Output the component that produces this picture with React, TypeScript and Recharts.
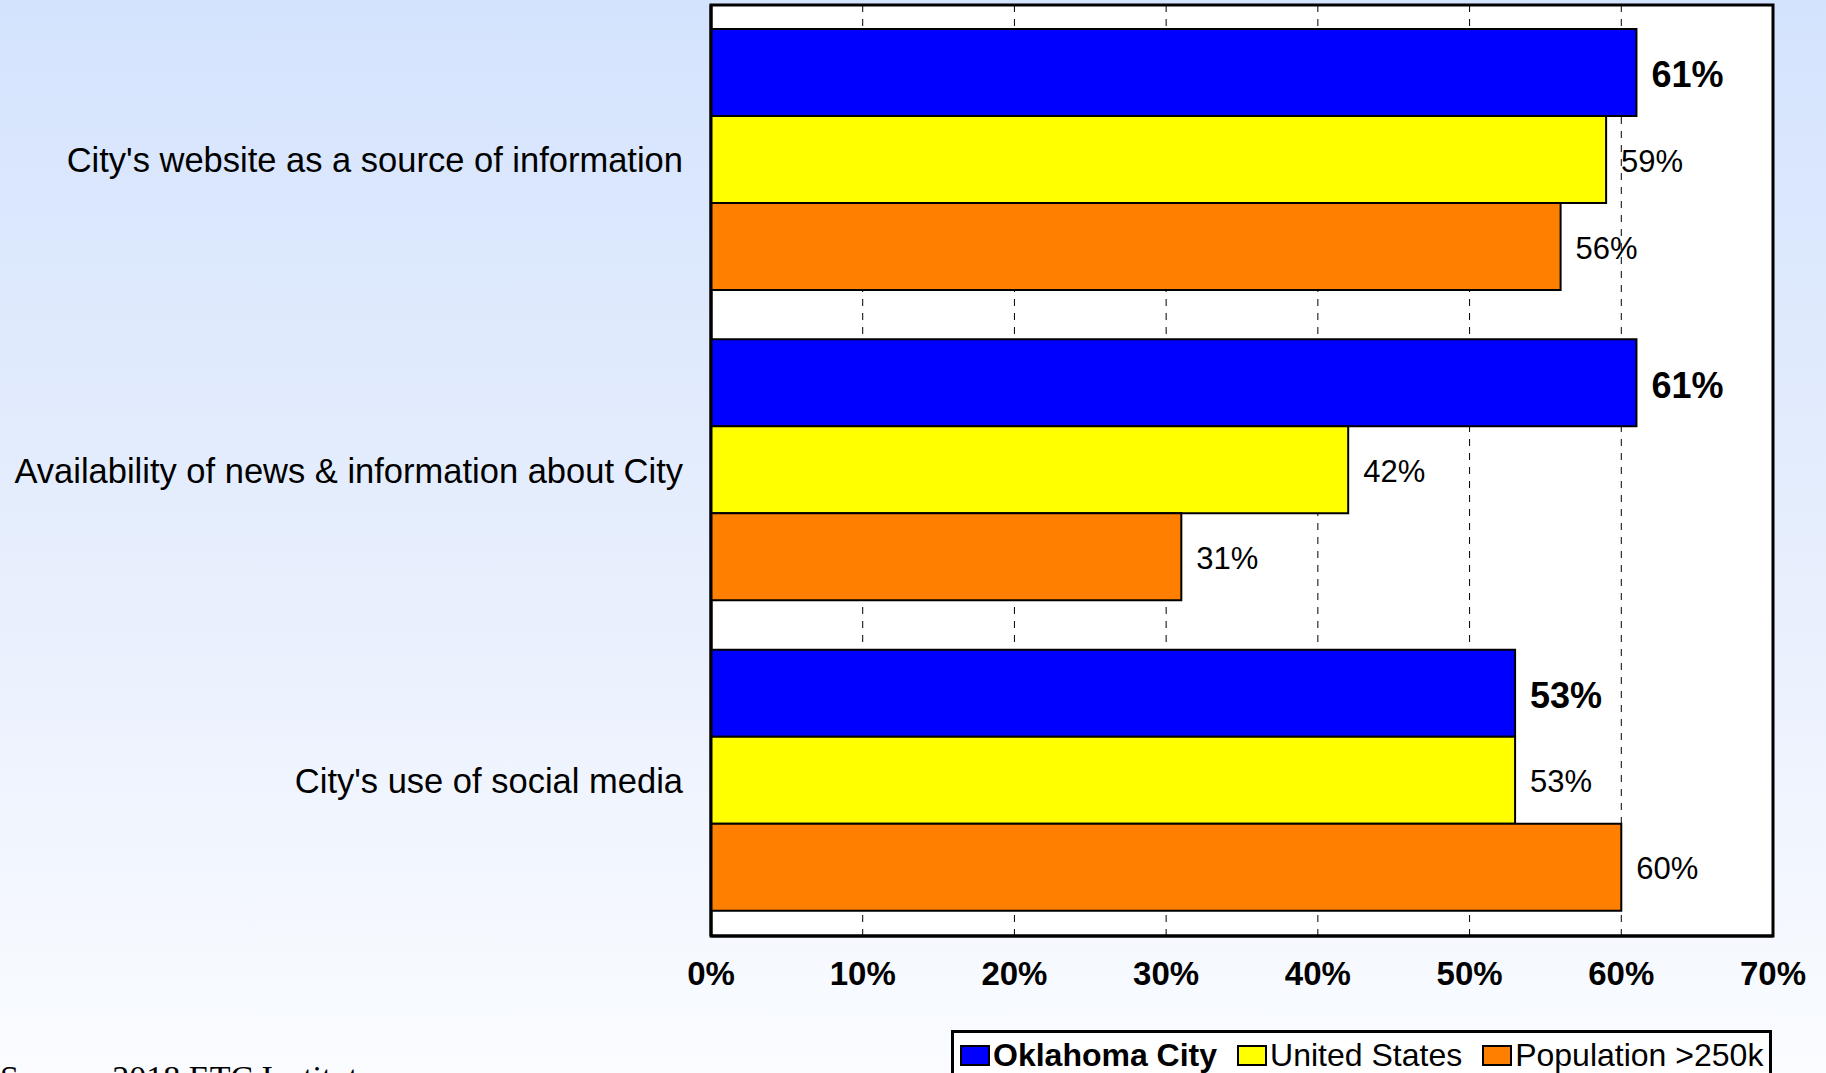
import React from 'react';
import { BarChart, Bar, XAxis, YAxis, CartesianGrid, LabelList, Legend, ReferenceArea } from 'recharts';

const categories = [
  "City's website as a source of information",
  'Availability of news & information about City',
  "City's use of social media",
];
const oklahomaCity = [61, 61, 53];
const unitedStates = [59, 42, 53];
const population250k = [56, 31, 60];
const seriesNames = ['Oklahoma City', 'United States', 'Population >250k'];
const seriesColors = ['#0000ff', '#ffff00', '#ff8000'];
const xTicks = [0, 10, 20, 30, 40, 50, 60, 70];

const data = categories.map((name, i) => ({
  name,
  okc: oklahomaCity[i],
  us: unitedStates[i],
  pop: population250k[i],
}));

const FONT = '"Liberation Sans", Arial, Helvetica, sans-serif';
const pct = (v: any) => `${v}%`;

const renderLegend = () => {
  return (
    <div
      style={{
        border: '3px solid #000',
        background: '#fff',
        display: 'flex',
        alignItems: 'center',
        padding: '2px 6px 10px 6px',
        fontFamily: FONT,
        fontSize: 32,
        lineHeight: '40px',
        color: '#000',
        whiteSpace: 'nowrap',
      }}
    >
      {seriesNames.map((name, i) => (
        <div key={name} style={{ display: 'flex', alignItems: 'center', marginRight: i < seriesNames.length - 1 ? 20 : 0 }}>
          <span
            style={{
              display: 'inline-block',
              width: 26,
              height: 17,
              background: seriesColors[i],
              border: '2px solid #000',
              marginRight: 3,
            }}
          />
          <span style={{ fontWeight: i === 0 ? 700 : 400 }}>{name}</span>
        </div>
      ))}
    </div>
  );
};

export default function App() {
  return (
    <div
      style={{
        position: 'fixed',
        left: 0,
        top: 0,
        width: 1826,
        height: 1073,
        overflow: 'hidden',
        background: 'linear-gradient(to bottom, #d4e3fd 0%, #e6eefd 50%, #fafcff 100%)',
        fontFamily: FONT,
      }}
    >
      <BarChart
        width={1826}
        height={1073}
        data={data}
        layout="vertical"
        margin={{ top: 5, right: 53, bottom: 77, left: 0 }}
        barCategoryGap={24}
        barGap={0}
      >
        <CartesianGrid horizontal={false} stroke="#000" strokeDasharray="7 7" fill="#fff" fillOpacity={1} />
        <XAxis
          type="number"
          domain={[0, 70]}
          ticks={xTicks}
          interval={0}
          tickFormatter={pct}
          height={60}
          tickLine={false}
          tickSize={0}
          tickMargin={26}
          axisLine={{ stroke: '#000', strokeWidth: 3 }}
          tick={{ fontSize: 33, fontWeight: 700, fill: '#000', fontFamily: FONT }}
        />
        <YAxis
          type="category"
          dataKey="name"
          width={711}
          tickLine={false}
          tickSize={0}
          tickMargin={28}
          axisLine={{ stroke: '#000', strokeWidth: 3 }}
          tick={{ fontSize: 34.5, fill: '#000', fontFamily: FONT }}
        />
        <Legend
          layout="horizontal"
          align="center"
          verticalAlign="middle"
          content={renderLegend}
          wrapperStyle={{ position: 'absolute', left: 951, top: 1030, width: 'auto', height: 'auto' }}
        />
        <Bar dataKey="okc" name={seriesNames[0]} fill={seriesColors[0]} stroke="#000" strokeWidth={2} isAnimationActive={false}>
          <LabelList
            dataKey="okc"
            position="right"
            offset={15}
            formatter={pct}
            fill="#000"
            fontSize={36}
            fontWeight={700}
            fontFamily={FONT}
            dy={2}
          />
        </Bar>
        <Bar dataKey="us" name={seriesNames[1]} fill={seriesColors[1]} stroke="#000" strokeWidth={2} isAnimationActive={false}>
          <LabelList
            dataKey="us"
            position="right"
            offset={15}
            formatter={pct}
            fill="#000"
            fontSize={31}
            fontFamily={FONT}
            dy={1}
          />
        </Bar>
        <Bar dataKey="pop" name={seriesNames[2]} fill={seriesColors[2]} stroke="#000" strokeWidth={2} isAnimationActive={false}>
          <LabelList
            dataKey="pop"
            position="right"
            offset={15}
            formatter={pct}
            fill="#000"
            fontSize={31}
            fontFamily={FONT}
            dy={1}
          />
        </Bar>
        <ReferenceArea
          x1={0}
          x2={70}
          fill="none"
          fillOpacity={0}
          stroke="#000"
          strokeWidth={3}
          ifOverflow="visible"
        />
      </BarChart>
      <div
        style={{
          position: 'absolute',
          left: 0,
          top: 1061,
          fontFamily: '"Liberation Serif", "Times New Roman", serif',
          fontSize: 34,
          lineHeight: '34px',
          color: '#000',
          whiteSpace: 'nowrap',
        }}
      >
        Source: 2018 ETC Institute
      </div>
    </div>
  );
}
